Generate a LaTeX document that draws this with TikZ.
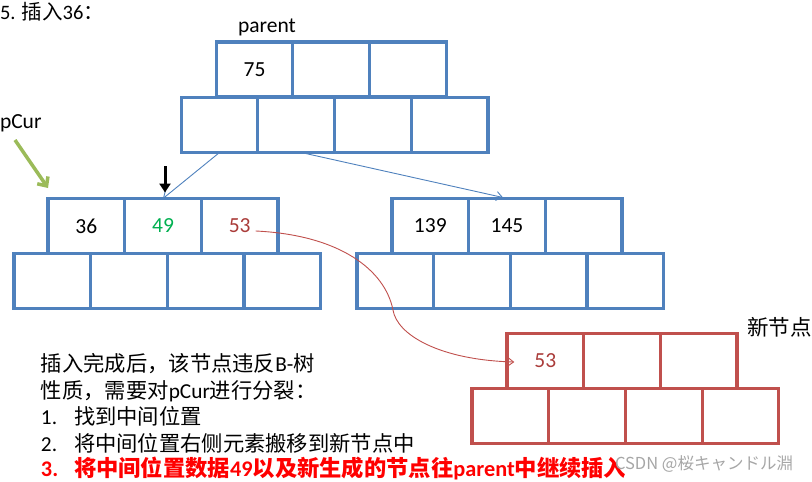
\documentclass[tikz,border=0pt]{standalone}
\usepackage{fontspec}
\setmainfont{Carlito}
\newfontfamily\cjk{Noto Sans CJK SC}
\newfontfamily\jpfont{Noto Sans CJK JP}
\usetikzlibrary{arrows.meta,calc}
\definecolor{bblue}{RGB}{79,129,189}
\definecolor{rred}{RGB}{192,80,77}
\definecolor{ggreen}{RGB}{0,176,80}
\definecolor{olivegreen}{RGB}{155,187,89}
\definecolor{dred}{RGB}{170,60,58}
\begin{document}
\begin{tikzpicture}[x=1pt,y=-1pt,
  cell/.style={draw=bblue, line width=3.2pt, minimum width=76.7pt, minimum height=55pt,
    inner sep=0pt, outer sep=0pt, font=\fontsize{21.5}{25}\selectfont},
  rcell/.style={cell, draw=rred},
  lbl/.style={inner sep=0pt, outer sep=0pt, font=\fontsize{21.5}{25}\selectfont},
  txt/.style={lbl, anchor=base west, font=\fontsize{21.3}{26}\selectfont},
  link/.style={draw=bblue, line width=0.9pt, -{Straight Barb[length=6pt,width=9pt]}},
]
\useasboundingbox (0,0) rectangle (812,482);

% parent node
\node[cell] (p1) at (254.5,69.5) {75};
\node[cell] (p2) at (331.2,69.5) {};
\node[cell] (p3) at (407.9,69.5) {};
\node[cell] (pb1) at (219.5,125) {};
\node[cell] (pb2) at (296.2,125) {};
\node[cell] (pb3) at (372.9,125) {};
\node[cell] (pb4) at (449.6,125) {};

% left node (pCur)
\node[cell] (l1) at (86.3,226) {36};
\node[cell, text=ggreen] (l2) at (163,226) {49};
\node[cell, text=dred] (l3) at (239.7,226) {53};
\node[cell] (lb1) at (52.3,281) {};
\node[cell] (lb2) at (129,281) {};
\node[cell] (lb3) at (205.7,281) {};
\node[cell] (lb4) at (282.4,281) {};

% right node
\node[cell] (r1) at (430.3,226) {139};
\node[cell] (r2) at (507,226) {145};
\node[cell] (r3) at (583.7,226) {};
\node[cell] (rb1) at (395.3,281) {};
\node[cell] (rb2) at (472,281) {};
\node[cell] (rb3) at (548.7,281) {};
\node[cell] (rb4) at (625.4,281) {};

% new node
\node[rcell, text=dred] (n1) at (545.3,361) {53};
\node[rcell] (n2) at (622,361) {};
\node[rcell] (n3) at (698.7,361) {};
\node[rcell] (nb1) at (510.4,416) {};
\node[rcell] (nb2) at (587.1,416) {};
\node[rcell] (nb3) at (663.8,416) {};
\node[rcell] (nb4) at (740.5,416) {};

% labels
\node[lbl, anchor=base west, font=\fontsize{20.5}{24}\selectfont] (title) at (0,19) {5. {\cjk 插入}36{\cjk ：}};
\node[lbl, anchor=base] (parentlbl) at (267,32) {parent};
\node[lbl, anchor=base west] (pcurlbl) at (0,128) {pCur};
\node[lbl, anchor=base west] (newlbl) at (747,335) {\cjk 新节点};

% connectors
\draw[link] (pb1.south) -- (l2.north);
\draw[link] ([xshift=5pt]pb2.south) -- ([xshift=-4pt,yshift=1pt]r2.north);

\coordinate (gs) at (15,140);
\coordinate (ge) at (48,188);
\draw[olivegreen, line width=3.5pt, -{Straight Barb[length=7pt,width=13pt]}] (gs) -- (ge);

\coordinate (bs) at (165,166);
\draw[black, line width=3pt, -{Triangle[length=9pt,width=11pt]}] (bs) -- ([xshift=2pt,yshift=6pt]l2.north);

\coordinate (cs) at ($(l3.center)+(16,5)$);
\coordinate (cm) at (393,310);
\coordinate (ce) at ($(n1.center)+(-31,1)$);
\draw[rred, line width=0.9pt, -{Straight Barb[length=6pt,width=9pt]}]
  (cs) .. controls (340,235) and (385,270) .. (cm)
       .. controls (397,335) and (440,360) .. (ce);

% text block
\node[txt] (t1) at (41,371) {{\cjk 插入完成后，该节点违反}B-{\cjk 树}};
\node[txt] (t2) at (41,398) {{\cjk 性质，需要对}pCur{\cjk 进行分裂：}};
\node[txt] (t3) at (41,424) {\makebox[33pt][l]{1.}{\cjk 找到中间位置}};
\node[txt] (t4) at (41,451) {\makebox[33pt][l]{2.}{\cjk 将中间位置右侧元素搬移到新节点中}};
\node[txt, text=red, font=\fontsize{22.3}{26}\selectfont] (t5) at (41,476) {\bfseries\makebox[33pt][l]{3.}{\cjk 将中间位置数据}49{\cjk 以及新生成的节点往}parent{\cjk 中继续插入}};

% watermark
\node[lbl, anchor=base west, text=black!35, font=\fontsize{16.5}{20}\selectfont\jpfont] (wm) at (615,469) {CSDN @桜キャンドル淵};
\end{tikzpicture}
\end{document}
